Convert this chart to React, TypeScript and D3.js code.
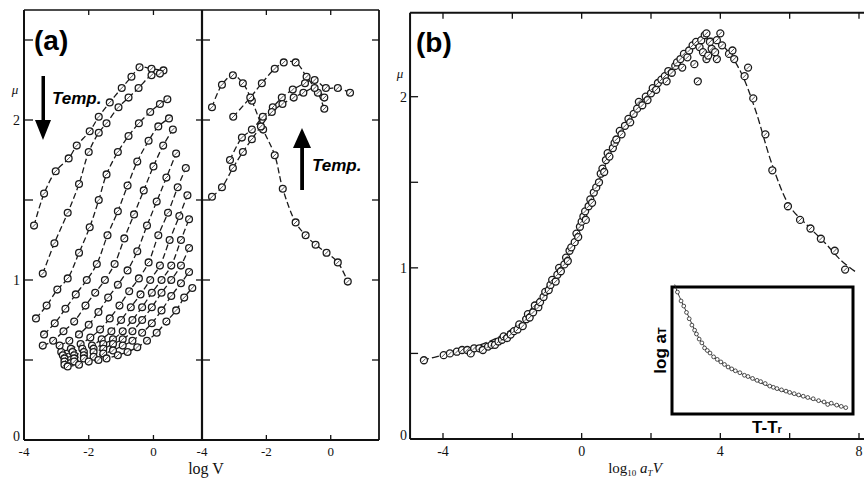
import React from 'react';
import * as d3 from 'd3';

type P = [number, number];

// ---------- Panel (a), left sub-panel: mu vs log V (low temperatures) ----------
const leftCurveA: P[] = [[-3.69,1.34],[-3.38,1.54],[-3.02,1.68],[-2.62,1.76],[-2.37,1.84],[-1.97,1.93],[-1.69,2.02],[-1.35,2.11],[-0.98,2.2],[-0.68,2.27],[-0.43,2.33],[-0.06,2.32],[0.31,2.31]];
const leftCurveB: P[] = [[-3.42,1.04],[-3.06,1.23],[-2.65,1.42],[-2.3,1.6],[-2.0,1.8],[-1.69,1.92],[-1.45,1.98],[-1.08,2.08],[-0.77,2.14],[-0.46,2.2],[-0.06,2.28],[0.2,2.29]];
const leftCurveC: P[] = [[-3.63,0.76],[-3.3,0.84],[-2.97,0.94],[-2.65,1.01],[-2.3,1.17],[-1.97,1.33],[-1.69,1.5],[-1.45,1.66],[-1.1,1.8],[-0.77,1.9],[-0.45,1.98],[-0.1,2.05],[0.2,2.1],[0.43,2.13]];
const leftCurveD: P[] = [[-3.38,0.66],[-3.05,0.73],[-2.72,0.82],[-2.4,0.91],[-2.06,1.0],[-1.75,1.1],[-1.42,1.28],[-1.1,1.43],[-0.8,1.59],[-0.5,1.74],[-0.15,1.87],[0.15,1.96],[0.48,2.01]];
const leftCurveE: P[] = [[-3.42,0.59],[-3.1,0.62],[-2.78,0.68],[-2.45,0.74],[-2.1,0.84],[-1.8,0.92],[-1.5,1.0],[-1.2,1.1],[-0.9,1.26],[-0.6,1.41],[-0.3,1.56],[0.0,1.71],[0.3,1.84],[0.6,1.94]];
const leftCurveF: P[] = [[-2.9,0.59],[-2.6,0.62],[-2.3,0.66],[-2.0,0.72],[-1.7,0.8],[-1.4,0.89],[-1.1,0.97],[-0.8,1.06],[-0.5,1.18],[-0.2,1.34],[0.1,1.49],[0.4,1.64],[0.7,1.79]];
const leftCurveG: P[] = [[-2.85,0.55],[-2.55,0.57],[-2.25,0.6],[-1.95,0.64],[-1.65,0.69],[-1.35,0.76],[-1.05,0.84],[-0.75,0.93],[-0.45,1.01],[-0.15,1.11],[0.15,1.28],[0.45,1.42],[0.75,1.58],[1.0,1.7]];
const leftCurveH: P[] = [[-2.8,0.53],[-2.5,0.55],[-2.2,0.57],[-1.9,0.59],[-1.6,0.63],[-1.3,0.68],[-1.0,0.75],[-0.7,0.83],[-0.4,0.91],[-0.1,1.0],[0.2,1.09],[0.5,1.25],[0.8,1.4],[1.05,1.53]];
const leftCurveI: P[] = [[-2.75,0.51],[-2.45,0.53],[-2.15,0.55],[-1.85,0.57],[-1.55,0.6],[-1.25,0.63],[-0.95,0.68],[-0.65,0.75],[-0.35,0.83],[-0.05,0.92],[0.25,1.0],[0.55,1.09],[0.85,1.25],[1.1,1.38]];
const leftCurveJ: P[] = [[-2.75,0.49],[-2.45,0.51],[-2.15,0.53],[-1.85,0.55],[-1.55,0.57],[-1.25,0.6],[-0.95,0.63],[-0.65,0.68],[-0.35,0.75],[-0.05,0.83],[0.25,0.92],[0.55,1.0],[0.85,1.09],[1.1,1.2]];
const leftCurveK: P[] = [[-2.75,0.47],[-2.45,0.49],[-2.15,0.51],[-1.85,0.52],[-1.55,0.54],[-1.25,0.56],[-0.95,0.59],[-0.65,0.62],[-0.35,0.67],[-0.05,0.73],[0.25,0.81],[0.55,0.9],[0.85,0.98],[1.1,1.05]];
const leftCurveL: P[] = [[-2.65,0.46],[-2.3,0.47],[-2.0,0.49],[-1.7,0.5],[-1.45,0.51],[-1.1,0.53],[-0.8,0.55],[-0.5,0.58],[-0.2,0.62],[0.1,0.67],[0.4,0.74],[0.7,0.81],[0.95,0.89],[1.2,0.95]];
const leftCurves = [leftCurveA, leftCurveB, leftCurveC, leftCurveD, leftCurveE, leftCurveF, leftCurveG, leftCurveH, leftCurveI, leftCurveJ, leftCurveK, leftCurveL];

// ---------- Panel (a), middle sub-panel (high temperatures) ----------
const midCurve1: P[] = [[-3.69,2.08],[-3.38,2.22],[-3.04,2.28],[-2.73,2.23],[-2.45,2.12],[-2.1,1.94],[-1.74,1.78],[-1.49,1.57],[-1.09,1.36],[-0.78,1.28],[-0.47,1.22],[-0.13,1.17],[0.22,1.11],[0.53,0.99]];
const midCurve2: P[] = [[-3.03,2.02],[-2.5,2.14],[-2.14,2.23],[-1.74,2.32],[-1.46,2.36],[-1.09,2.36],[-0.75,2.27],[-0.4,2.17],[-0.2,2.07]];
const midCurve3: P[] = [[-3.13,1.75],[-2.76,1.89],[-2.45,1.94],[-2.11,2.02],[-1.8,2.08],[-1.52,2.14],[-1.18,2.19],[-0.8,2.23],[-0.5,2.25],[-0.15,2.2],[0.22,2.2],[0.6,2.17]];
const midCurve4: P[] = [[-3.69,1.52],[-3.38,1.58],[-3.04,1.7],[-2.73,1.8],[-2.45,1.88],[-2.17,1.96],[-1.83,2.05],[-1.5,2.1],[-1.15,2.14],[-0.85,2.17],[-0.5,2.2],[-0.2,2.14]];
const midCurves = [midCurve1, midCurve2, midCurve3, midCurve4];

// ---------- Panel (b): master curve mu vs log10 aT V ----------
const masterPoints: P[] = [[-4.55,0.46],[-3.98,0.49],[-3.8,0.5],[-3.6,0.51],[-3.45,0.52],[-3.3,0.52],[-3.2,0.5],[-3.1,0.53],[-2.95,0.53],[-2.85,0.52],[-2.7,0.54],[-2.6,0.55],[-2.5,0.55],[-2.4,0.57],[-2.3,0.58],[-2.25,0.6],[-2.15,0.59],[-2.05,0.61],[-1.95,0.63],[-1.85,0.64],[-1.8,0.67],[-1.7,0.66],[-1.6,0.7],[-1.55,0.73],[-1.5,0.71],[-1.4,0.74],[-1.35,0.78],[-1.25,0.77],[-1.2,0.8],[-1.1,0.83],[-1.05,0.86],[-0.95,0.87],[-0.9,0.9],[-0.85,0.93],[-0.75,0.92],[-0.7,0.96],[-0.65,1.0],[-0.6,0.98],[-0.5,1.02],[-0.45,1.06],[-0.4,1.04],[-0.35,1.1],[-0.3,1.12],[-0.2,1.15],[-0.15,1.2],[-0.1,1.18],[-0.05,1.24],[0.0,1.27],[0.05,1.3],[0.1,1.33],[0.12,1.28],[0.2,1.36],[0.25,1.4],[0.3,1.38],[0.35,1.44],[0.42,1.47],[0.5,1.5],[0.55,1.55],[0.6,1.58],[0.65,1.56],[0.7,1.63],[0.75,1.67],[0.8,1.65],[0.9,1.7],[0.95,1.73],[1.0,1.75],[1.1,1.8],[1.15,1.78],[1.25,1.83],[1.35,1.87],[1.4,1.85],[1.5,1.9],[1.6,1.93],[1.65,1.97],[1.75,1.95],[1.85,2.0],[1.9,1.98],[2.0,2.02],[2.05,2.05],[2.15,2.04],[2.2,2.08],[2.3,2.1],[2.4,2.12],[2.45,2.09],[2.5,2.15],[2.6,2.14],[2.7,2.18],[2.75,2.2],[2.85,2.22],[2.9,2.17],[2.95,2.25],[3.05,2.23],[3.1,2.27],[3.2,2.3],[3.25,2.19],[3.3,2.32],[3.35,2.09],[3.4,2.29],[3.45,2.33],[3.5,2.26],[3.55,2.36],[3.6,2.37],[3.6,2.22],[3.65,2.24],[3.7,2.32],[3.75,2.28],[3.85,2.26],[3.9,2.33],[3.9,2.22],[4.0,2.37],[4.05,2.3],[4.25,2.25],[4.35,2.27],[4.4,2.22],[4.7,2.12],[4.8,2.17],[4.95,1.99],[5.3,1.78],[5.5,1.57],[5.95,1.36],[6.3,1.28],[6.6,1.23],[6.9,1.17],[7.3,1.1],[7.6,0.99]];
const masterFit: P[] = [[-4.6,0.46],[-4.0,0.49],[-3.5,0.515],[-3.0,0.545],[-2.5,0.585],[-2.0,0.645],[-1.5,0.75],[-1.0,0.89],[-0.5,1.04],[0.0,1.26],[0.5,1.51],[1.0,1.75],[1.5,1.92],[2.0,2.03],[2.5,2.13],[3.0,2.25],[3.5,2.33],[3.8,2.34],[4.2,2.27],[4.6,2.14],[5.0,1.93],[5.5,1.6],[6.0,1.36],[6.5,1.25],[7.0,1.15],[7.5,1.04],[7.95,0.97]];

// ---------- Inset: log aT vs T - Tr ----------
const insetPoints: P[] = [[3,9.6],[5,8.9],[6.5,8.5],[8,8.0],[9.5,7.5],[11,7.0],[12.5,6.6],[13.5,6.3],[15,5.9],[16.5,5.6],[18,5.2],[19.5,5.0],[21,4.8],[23,4.5],[25,4.3],[27,4.1],[29,3.9],[31,3.7],[33,3.55],[35,3.4],[37.5,3.25],[40,3.05],[42,2.95],[44.5,2.8],[47,2.65],[49,2.55],[51.5,2.4],[54,2.2],[56,2.1],[58,2.0],[60.5,1.9],[63,1.8],[65,1.7],[67.5,1.6],[70,1.5],[72.5,1.4],[75,1.3],[78,1.2],[81,1.05],[84,0.95],[86,0.75],[88,0.85],[91,0.7],[93.5,0.6],[96,0.5]];
const insetFit: P[] = [[1.5,10.2],[3.3,9.5],[8.3,7.95],[15.5,5.83],[24.9,4.25],[37.6,3.23],[55.8,2.05],[74.6,1.26],[96.7,0.47]];

const aTickLabels = [-4, -2, 0];
const aMinorY = [0.5, 1, 1.5, 2, 2.5];
const aYLabels = [0, 1, 2];
const bTicks = [-4, -2, 0, 2, 4, 6, 8];
const bTickLabels = [-4, 0, 4, 8];
const bMinorY = [0.5, 1, 1.5, 2];
const bYLabels = [0, 1, 2];

const serif = "'Liberation Serif', 'DejaVu Serif', serif";
const sans = "'Liberation Sans', Arial, sans-serif";

function Marker({ x, y, r = 3.4 }: { x: number; y: number; r?: number }) {
  return (
    <g>
      <circle cx={x} cy={y} r={r} fill="#fff" stroke="#1a1a1a" strokeWidth={1.3} />
      <line x1={x - r * 0.55} y1={y + r * 0.55} x2={x + r * 0.55} y2={y - r * 0.55} stroke="#555" strokeWidth={1} />
    </g>
  );
}

export default function App() {
  const W = 864, H = 479;
  const xL = d3.scaleLinear().domain([-4, 1.5]).range([24, 202]);
  const xM = d3.scaleLinear().domain([-4, 1.5]).range([202, 379]);
  const yA = d3.scaleLinear().domain([0, 2.6875]).range([440, 10]);
  const xB = d3.scaleLinear().domain([-4, 8]).range([443, 859]);
  const yB = d3.scaleLinear().domain([0, 2]).range([439, 96.7]);
  const xI = d3.scaleLinear().domain([0, 100]).range([672, 853]);
  const yI = d3.scaleLinear().domain([0, 10]).range([414, 287]);

  const lineL = d3.line<P>().x(d => xL(d[0])).y(d => yA(d[1])).curve(d3.curveCatmullRom);
  const lineM = d3.line<P>().x(d => xM(d[0])).y(d => yA(d[1])).curve(d3.curveCatmullRom);
  const lineB = d3.line<P>().x(d => xB(d[0])).y(d => yB(d[1])).curve(d3.curveCatmullRom);
  const lineI = d3.line<P>().x(d => xI(d[0])).y(d => yI(d[1])).curve(d3.curveCatmullRom);

  const bLeft = xB(-4.95);
  const bRight = 864;
  const bTop = yB(2.49);

  return (
    <div style={{ position: 'absolute', left: 0, top: 0 }}>
      <svg width={W} height={H} viewBox={`0 0 ${W} ${H}`} style={{ display: 'block', background: '#fff' }}>
        <rect width={W} height={H} fill="#fff" />

        {/* ---------- Panel (a) frames ---------- */}
        <g stroke="#111" fill="none">
          <line x1={xL(-4)} y1={yA(2.6875)} x2={xM(1.5)} y2={yA(2.6875)} strokeWidth={1.6} />
          <line x1={xL(-4)} y1={yA(0)} x2={xM(1.5)} y2={yA(0)} strokeWidth={2} />
          <line x1={xL(-4)} y1={yA(0)} x2={xL(-4)} y2={yA(2.6875)} strokeWidth={2} />
          <line x1={xM(-4)} y1={yA(0)} x2={xM(-4)} y2={yA(2.6875)} strokeWidth={2.2} />
          <line x1={xM(1.5)} y1={yA(0)} x2={xM(1.5)} y2={yA(2.6875)} strokeWidth={1.8} />
          {aMinorY.map(v => (
            <g key={'ay' + v} strokeWidth={1.3}>
              <line x1={xL(-4)} x2={xL(-4) + 9} y1={yA(v)} y2={yA(v)} />
              <line x1={xM(-4) - 6} x2={xM(-4) + 8} y1={yA(v)} y2={yA(v)} />
              <line x1={xM(1.5) - 7} x2={xM(1.5)} y1={yA(v)} y2={yA(v)} />
            </g>
          ))}
          {[-2, 0].map(v => (
            <g key={'ax' + v} strokeWidth={1.3}>
              <line x1={xL(v)} x2={xL(v)} y1={yA(0)} y2={yA(0) - 5} />
              <line x1={xM(v)} x2={xM(v)} y1={yA(0)} y2={yA(0) - 5} />
              <line x1={xL(v)} x2={xL(v)} y1={yA(2.6875)} y2={yA(2.6875) + 5} />
              <line x1={xM(v)} x2={xM(v)} y1={yA(2.6875)} y2={yA(2.6875) + 5} />
            </g>
          ))}
        </g>
        <g fontFamily={serif} fontSize={13} fill="#111" textAnchor="middle">
          {aTickLabels.map(v => (
            <g key={'atl' + v}>
              <text x={xL(v)} y={456}>{v < 0 ? '-' + Math.abs(v) : v}</text>
              <text x={xM(v)} y={456}>{v < 0 ? '-' + Math.abs(v) : v}</text>
            </g>
          ))}
          {aYLabels.map(v => (
            <text key={'ayl' + v} x={xL(-4) - 4} y={yA(v) + (v === 0 ? 1 : 5)} textAnchor="end" fontSize={14}>{v}</text>
          ))}
          <text x={206} y={474} fontSize={16}>log V</text>
          <text x={15} y={94} fontSize={13} fontStyle="italic">μ</text>
        </g>

        {/* curves in (a) */}
        <g fill="none" stroke="#1a1a1a" strokeWidth={1.3} strokeDasharray="6 3">
          {leftCurves.map((c, i) => <path key={'lc' + i} d={lineL(c) || ''} />)}
          {midCurves.map((c, i) => <path key={'mc' + i} d={lineM(c) || ''} />)}
        </g>
        {leftCurves.map((c, i) => c.map((d, j) => <Marker key={`lm${i}-${j}`} x={xL(d[0])} y={yA(d[1])} />))}
        {midCurves.map((c, i) => c.map((d, j) => <Marker key={`mm${i}-${j}`} x={xM(d[0])} y={yA(d[1])} />))}

        {/* (a) annotations */}
        <text x={34} y={50} fontFamily={sans} fontWeight="bold" fontSize={28} fill="#000">(a)</text>
        <rect x={41.5} y={76} width={3.5} height={46} fill="#000" />
        <path d="M35,120 L51,120 L43,140 Z" fill="#000" />
        <text x={52} y={104} fontFamily={sans} fontWeight="bold" fontStyle="italic" fontSize={17} fill="#000">Temp.</text>
        <rect x={300.2} y={145} width={3.8} height={45} fill="#000" />
        <path d="M293,148 L311,148 L302,128 Z" fill="#000" />
        <text x={312} y={171} fontFamily={sans} fontWeight="bold" fontStyle="italic" fontSize={17} fill="#000">Temp.</text>

        {/* ---------- Panel (b) ---------- */}
        <g stroke="#111" fill="none">
          <line x1={bLeft} y1={bTop} x2={bRight} y2={bTop} strokeWidth={2} />
          <line x1={bLeft} y1={yB(0)} x2={bRight} y2={yB(0)} strokeWidth={2} />
          <line x1={bLeft} y1={yB(0)} x2={bLeft} y2={bTop} strokeWidth={2} />
          {bTicks.map(v => (
            <g key={'bt' + v} strokeWidth={1.3}>
              <line x1={xB(v)} x2={xB(v)} y1={yB(0)} y2={yB(0) - 6} />
              <line x1={xB(v)} x2={xB(v)} y1={bTop} y2={bTop + 6} />
            </g>
          ))}
          {bMinorY.map(v => (
            <line key={'by' + v} x1={bLeft} x2={bLeft + 8} y1={yB(v)} y2={yB(v)} strokeWidth={1.3} />
          ))}
        </g>
        <g fontFamily={serif} fontSize={14} fill="#111" textAnchor="middle">
          {bTickLabels.map(v => (
            <text key={'btl' + v} x={xB(v)} y={456}>{v < 0 ? '-' + Math.abs(v) : v}</text>
          ))}
          {bYLabels.map(v => (
            <text key={'byl' + v} x={bLeft - 3} y={yB(v) + (v === 0 ? 1 : 5)} textAnchor="end">{v}</text>
          ))}
          <text x={400} y={78} fontSize={13} fontStyle="italic">μ</text>
          <text x={635} y={473} fontSize={15}>
            log<tspan fontSize={9} dy={3}>10</tspan>
            <tspan dy={-3} fontStyle="italic"> a</tspan>
            <tspan fontSize={9} dy={3} fontStyle="italic">T</tspan>
            <tspan dy={-3} fontStyle="italic">V</tspan>
          </text>
        </g>
        <path d={lineB(masterFit) || ''} fill="none" stroke="#1a1a1a" strokeWidth={1.3} strokeDasharray="7 3" />
        {masterPoints.map((d, i) => <Marker key={'bp' + i} x={xB(d[0])} y={yB(d[1])} r={3.5} />)}
        <text x={416} y={52} fontFamily={sans} fontWeight="bold" fontSize={28} fill="#000">(b)</text>

        {/* ---------- Inset ---------- */}
        <rect x={xI(0)} y={yI(10)} width={xI(100) - xI(0)} height={yI(0) - yI(10)} fill="#fff" stroke="#000" strokeWidth={3} />
        <path d={lineI(insetFit) || ''} fill="none" stroke="#222" strokeWidth={0.9} />
        {insetPoints.map((d, i) => (
          <circle key={'ip' + i} cx={xI(d[0])} cy={yI(d[1])} r={1.9} fill="#fff" stroke="#222" strokeWidth={0.8} />
        ))}
        <text transform={`translate(${666},${yI(5)}) rotate(-90)`} textAnchor="middle" fontFamily={sans} fontWeight="bold" fontSize={17} fill="#000">
          log a<tspan fontSize={11}>T</tspan>
        </text>
        <text x={767} y={433} textAnchor="middle" fontFamily={sans} fontWeight="bold" fontSize={17} fill="#000">
          T-T<tspan fontSize={11}>r</tspan>
        </text>
      </svg>
    </div>
  );
}
